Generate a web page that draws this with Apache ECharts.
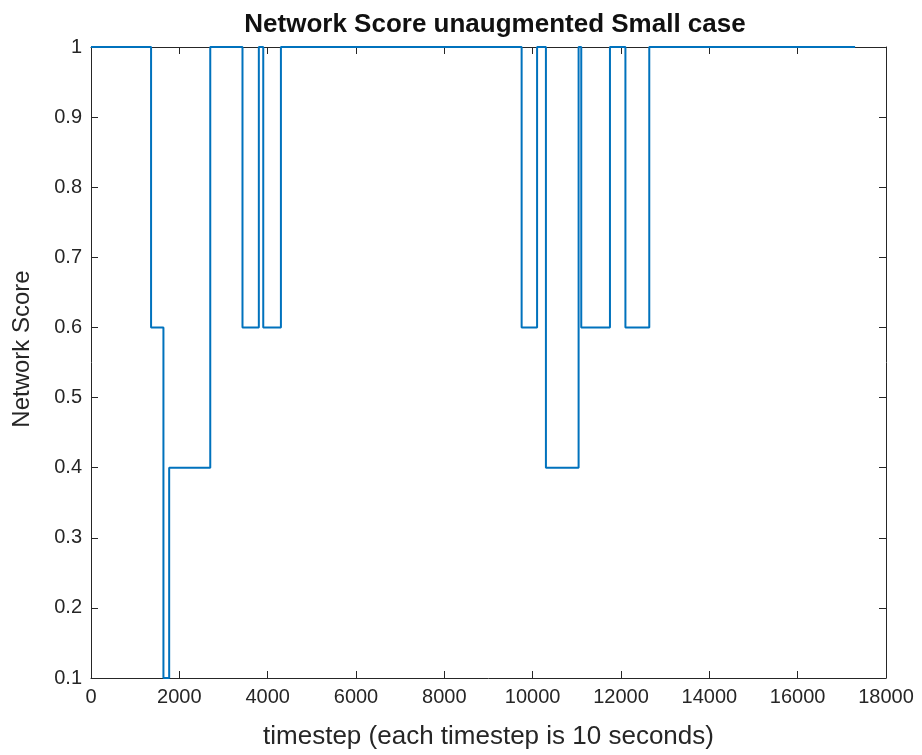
<!DOCTYPE html>
<html><head><meta charset="utf-8">
<script src="https://cdn.jsdelivr.net/npm/echarts@6/dist/echarts.min.js"></script>
<style>html,body{margin:0;padding:0;background:#fff}#c{width:922px;height:755px}</style>
</head><body><div id="c"></div>
<script>
const stepTimes  = [0, 1360, 1640, 1770, 2700, 3430, 3800, 3900, 4300, 9750, 10100, 10300, 11040, 11100, 11750, 12100, 12640, 17300];
const stepScores = [1, 0.6, 0.1, 0.4, 1, 0.6, 1, 0.6, 1, 0.6, 1, 0.4, 1, 0.6, 1, 0.6, 1, 1];
const xTicks = [0, 2000, 4000, 6000, 8000, 10000, 12000, 14000, 16000, 18000];
const yTicks = [0.1, 0.2, 0.3, 0.4, 0.5, 0.6, 0.7, 0.8, 0.9, 1];

const FONT = '"Liberation Sans", Arial, Helvetica, sans-serif';
const TXT = '#262626';
const chart = echarts.init(document.getElementById('c'), null, {renderer: 'canvas'});
const axisCommon = {
  axisLine: {show: true, onZero: false, lineStyle: {color: TXT, width: 1}},
  axisTick: {show: true, inside: true, length: 7, lineStyle: {color: TXT}},
  splitLine: {show: false}
};
chart.setOption({
  animation: false,
  backgroundColor: '#fff',
  title: {
    text: 'Network Score unaugmented Small case',
    left: 490, top: 7, textAlign: 'center',
    textStyle: {fontFamily: FONT, fontSize: 26, fontWeight: 'bold', color: '#111'}
  },
  graphic: [{
    type: 'text', x: 10, y: 349, rotation: Math.PI / 2,
    style: {text: 'Network Score', font: '24px ' + FONT, fill: TXT,
      textAlign: 'center', textVerticalAlign: 'top'}
  }],
  grid: {left: 91, right: 36, top: 47, bottom: 75, containLabel: false},
  xAxis: [
    Object.assign({
      type: 'value', min: 0, max: 18000, interval: 2000, position: 'bottom',
      name: 'timestep (each timestep is 10 seconds)', nameLocation: 'middle', nameGap: 46,
      nameTextStyle: {fontFamily: FONT, fontSize: 26, color: TXT},
      axisLabel: {fontFamily: FONT, fontSize: 20, color: TXT, margin: 9,
        formatter: v => xTicks.includes(v) ? String(v) : ''}
    }, axisCommon),
    Object.assign({
      type: 'value', min: 0, max: 18000, interval: 2000, position: 'top',
      axisLabel: {show: false}
    }, axisCommon)
  ],
  yAxis: [
    Object.assign({
      type: 'value', min: 0.1, max: 1, interval: 0.1, position: 'left',
      axisLabel: {fontFamily: FONT, fontSize: 20, color: TXT, margin: 9,
        formatter: v => { const r = Math.round(v * 10) / 10; return yTicks.includes(r) ? String(r) : ''; }}
    }, axisCommon),
    Object.assign({
      type: 'value', min: 0.1, max: 1, interval: 0.1, position: 'right',
      axisLabel: {show: false}
    }, axisCommon)
  ],
  series: [{
    type: 'line', step: 'end', xAxisIndex: 0, yAxisIndex: 0,
    data: stepTimes.map((t, i) => [t, stepScores[i]]),
    showSymbol: false, symbol: 'none', clip: false,
    lineStyle: {color: '#0072BD', width: 2}
  }]
});
</script></body></html>
